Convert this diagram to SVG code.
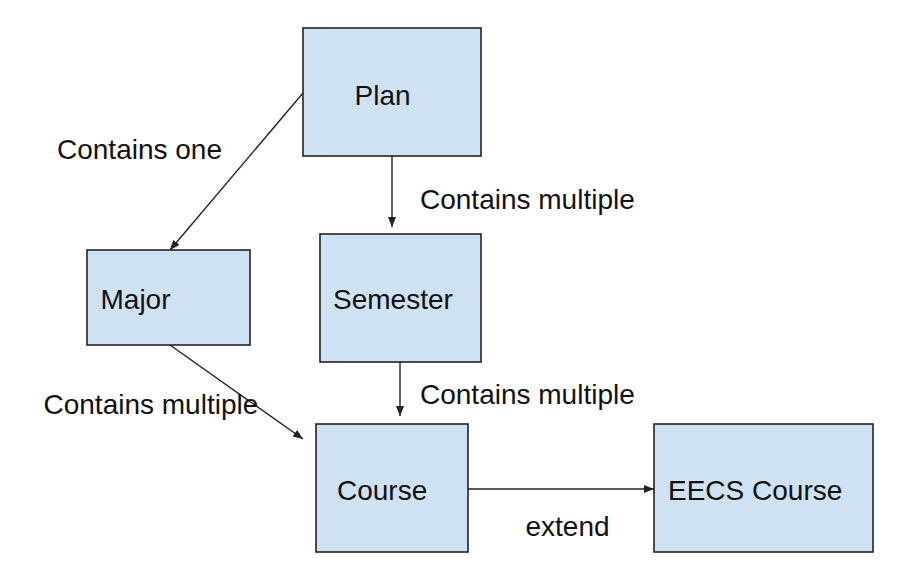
<svg xmlns="http://www.w3.org/2000/svg" width="920" height="583" viewBox="0 0 920 583">
<style>
.box{fill:#cfe2f3;stroke:#222;stroke-width:1.6}
.t{font-family:"Liberation Sans",Arial,sans-serif;font-size:28px;fill:#111}
.c{fill:none;stroke:#222;stroke-width:1.4}
</style>
<defs>
<marker id="ah" markerUnits="userSpaceOnUse" markerWidth="12" markerHeight="10" refX="10" refY="4" orient="auto">
<path d="M0,0 L10,4 L0,8 Z" fill="#222"/>
</marker>
</defs>
<rect width="920" height="583" fill="#fff"/>
<g id="connectors">
<line class="c" x1="303" y1="93" x2="170" y2="250" marker-end="url(#ah)"/>
<line class="c" x1="392" y1="156" x2="392" y2="227" marker-end="url(#ah)"/>
<line class="c" x1="400" y1="362" x2="400" y2="416" marker-end="url(#ah)"/>
<line class="c" x1="170" y1="345" x2="303" y2="439" marker-end="url(#ah)"/>
<line class="c" x1="468" y1="489" x2="654" y2="489" marker-end="url(#ah)"/>
<text class="t" x="57" y="159">Contains one</text>
<text class="t" x="420" y="209">Contains multiple</text>
<text class="t" x="420" y="404">Contains multiple</text>
<text class="t" x="43.5" y="414">Contains multiple</text>
<text class="t" x="525.5" y="536">extend</text>
</g>
<g id="plan"><rect class="box" x="303" y="28" width="178" height="128"/><text class="t" x="354.5" y="105">Plan</text></g>
<g id="major"><rect class="box" x="87" y="250" width="163" height="95"/><text class="t" x="100.5" y="309">Major</text></g>
<g id="semester"><rect class="box" x="320" y="234" width="161" height="128"/><text class="t" x="333" y="309">Semester</text></g>
<g id="course"><rect class="box" x="316" y="424" width="152" height="128"/><text class="t" x="337" y="500">Course</text></g>
<g id="eecs"><rect class="box" x="654" y="424" width="219" height="128"/><text class="t" x="668" y="500">EECS Course</text></g>
</svg>
